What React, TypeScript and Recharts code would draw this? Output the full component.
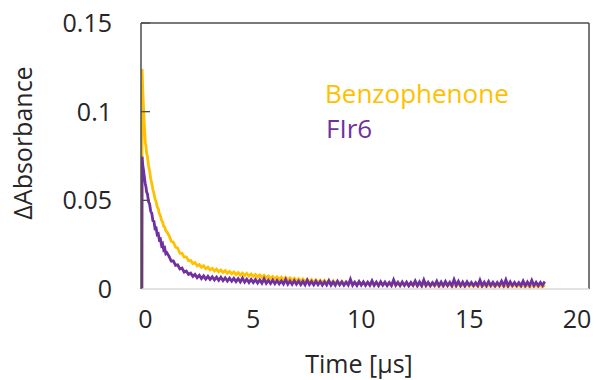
import { LineChart, Line, XAxis, YAxis, ReferenceLine, Customized } from 'recharts';

// time base: dense explicit points around the flash, then a regular 0.1 µs record
const earlyTimes = [
  -0.16, -0.15, -0.12, -0.09, -0.06, -0.03, 0, 0.03, 0.06, 0.1, 0.15, 0.2, 0.25, 0.3,
  0.35, 0.4, 0.45, 0.5, 0.55, 0.6, 0.65, 0.7, 0.75, 0.8, 0.85, 0.9, 0.95, 1.0,
];
const tailStart = 1.1;
const tailStep = 0.1;

const benzoEarly = [
  0, 0.124, 0.113, 0.104, 0.096, 0.089, 0.0825, 0.0805, 0.0765, 0.0745, 0.0695, 0.0665, 0.0622, 0.0596,
  0.0561, 0.0539, 0.0508, 0.0493, 0.0464, 0.0452, 0.0426, 0.0412, 0.0388, 0.0378, 0.0354, 0.0349, 0.0328, 0.0322,
];
const fir6Early = [
  0, 0.0746, 0.07, 0.0675, 0.0648, 0.0618, 0.0592, 0.0575, 0.0548, 0.0535, 0.0493, 0.0478, 0.0438, 0.0427,
  0.0385, 0.0381, 0.0341, 0.0344, 0.0307, 0.0311, 0.0277, 0.0281, 0.0247, 0.0255, 0.0222, 0.023, 0.0199, 0.0204,
];

const benzoTail = [
  0.0302, 0.027, 0.0264, 0.0236, 0.0231, 0.0202, 0.0201, 0.018, 0.0181, 0.016,
  0.0161, 0.0143, 0.0149, 0.0131, 0.0138, 0.0122, 0.0131, 0.0114, 0.0123, 0.0108,
  0.0116, 0.0102, 0.0113, 0.0097, 0.0107, 0.0093, 0.0104, 0.0089, 0.0099, 0.0086,
  0.0096, 0.0081, 0.0093, 0.0078, 0.009, 0.0075, 0.0088, 0.0072, 0.0084, 0.0071,
  0.0082, 0.0067, 0.0079, 0.0065, 0.0077, 0.0062, 0.0073, 0.006, 0.0071, 0.0057,
  0.0069, 0.0054, 0.0067, 0.0052, 0.0065, 0.005, 0.0063, 0.0048, 0.006, 0.0047,
  0.0058, 0.0044, 0.0057, 0.0041, 0.0054, 0.004, 0.0053, 0.0038, 0.0051, 0.0037,
  0.0049, 0.0035, 0.0048, 0.0033, 0.0046, 0.0032, 0.0045, 0.0031, 0.0044, 0.003,
  0.0042, 0.0028, 0.0041, 0.0027, 0.004, 0.0026, 0.0039, 0.0025, 0.0038, 0.0025,
  0.0037, 0.0023, 0.0036, 0.0022, 0.0035, 0.0023, 0.0036, 0.0021, 0.0034, 0.0022,
  0.0035, 0.0021, 0.0033, 0.002, 0.0034, 0.0021, 0.0032, 0.0019, 0.0033, 0.002,
  0.0032, 0.0018, 0.0031, 0.0019, 0.0032, 0.0017, 0.003, 0.0018, 0.0031, 0.0017,
  0.003, 0.0016, 0.0029, 0.0017, 0.0031, 0.0016, 0.0028, 0.0015, 0.0029, 0.0017,
  0.0029, 0.0015, 0.0028, 0.0016, 0.003, 0.0015, 0.0027, 0.0014, 0.0028, 0.0016,
  0.0028, 0.0014, 0.0027, 0.0015, 0.0029, 0.0014, 0.0026, 0.0013, 0.0027, 0.0015,
  0.0027, 0.0013, 0.0026, 0.0014, 0.0028, 0.0013, 0.0025, 0.0012, 0.0026, 0.0014,
  0.0026, 0.0013, 0.0025, 0.0012, 0.0027, 0.0013, 0.0024, 0.0011, 0.0025, 0.0013,
  0.0025, 0.0012, 0.0024, 0.0011, 0.0023,
];
const fir6Tail = [
  0.0184, 0.0158, 0.0158, 0.0133, 0.0136, 0.0113, 0.0118, 0.0095, 0.0101, 0.0082,
  0.0089, 0.0071, 0.0082, 0.0064, 0.0077, 0.0059, 0.0074, 0.0056, 0.0071, 0.0054,
  0.0069, 0.0051, 0.0067, 0.0049, 0.0066, 0.0047, 0.0063, 0.0045, 0.0061, 0.0044,
  0.006, 0.0042, 0.0058, 0.004, 0.0061, 0.0039, 0.0055, 0.0037, 0.0054, 0.0036,
  0.0053, 0.0034, 0.0051, 0.0033, 0.0057, 0.0032, 0.0049, 0.0031, 0.005, 0.003,
  0.0048, 0.0029, 0.0046, 0.0028, 0.0053, 0.0027, 0.0045, 0.0026, 0.0047, 0.0027,
  0.0045, 0.0025, 0.0043, 0.0024, 0.005, 0.0025, 0.0042, 0.0023, 0.0044, 0.0024,
  0.0042, 0.0022, 0.0041, 0.0023, 0.0047, 0.0022, 0.004, 0.0021, 0.0043, 0.0023,
  0.0041, 0.0021, 0.0039, 0.0022, 0.0055, 0.0021, 0.0038, 0.002, 0.0042, 0.0022,
  0.004, 0.002, 0.0038, 0.0021, 0.0046, 0.002, 0.0039, 0.0019, 0.0041, 0.0021,
  0.0039, 0.0019, 0.0037, 0.002, 0.0052, 0.0021, 0.0038, 0.0019, 0.004, 0.002,
  0.0039, 0.0018, 0.0037, 0.0021, 0.0045, 0.0019, 0.004, 0.0018, 0.0051, 0.002,
  0.0038, 0.0019, 0.0036, 0.002, 0.0044, 0.0018, 0.0039, 0.0019, 0.0042, 0.002,
  0.0038, 0.0018, 0.0053, 0.002, 0.0043, 0.0019, 0.0039, 0.0018, 0.0041, 0.0021,
  0.0037, 0.0019, 0.0036, 0.0019, 0.005, 0.0018, 0.0038, 0.0019, 0.0042, 0.002,
  0.0038, 0.0018, 0.0037, 0.002, 0.0044, 0.0019, 0.0052, 0.0018, 0.004, 0.002,
  0.0037, 0.0019, 0.0036, 0.0019, 0.0045, 0.0018, 0.0039, 0.0019, 0.0049, 0.002,
  0.0038, 0.0019, 0.0037, 0.002, 0.0042,
];

const xTicks = [0, 5, 10, 15, 20];
const yTicks = [0, 0.05, 0.1, 0.15];

const data = [
  ...earlyTimes.map((t, i) => ({ t, benzo: benzoEarly[i], fir6: fir6Early[i] })),
  ...benzoTail.map((v, i) => ({
    t: +(tailStart + i * tailStep).toFixed(2),
    benzo: v,
    fir6: fir6Tail[i],
  })),
];

const FONT = '"Open Sans", sans-serif';
const TEXT = '#262626';
const FRAME = '#4d4d4d';
const ORANGE = '#FFC000';
const PURPLE = '#7030A0';
const PLOT_LEFT = 141;

const YTick = ({ y, payload }: any) => (
  <g>
    {payload.value !== 0 && (
      <line x1={PLOT_LEFT} x2={PLOT_LEFT + 9} y1={y} y2={y} stroke={FRAME} strokeWidth={1.3} />
    )}
    <text x={112} y={y} dy={9} textAnchor="end" fontFamily={FONT} fontSize={25} fill={TEXT}>
      {payload.value}
    </text>
  </g>
);

const XTick = ({ x, payload }: any) => (
  <text x={x} y={328} textAnchor="middle" fontFamily={FONT} fontSize={25} fill={TEXT}>
    {payload.value}
  </text>
);

const Labels = () => (
  <g fontFamily={FONT}>
    <text x={325} y={103} fontSize={26} fill={ORANGE}>Benzophenone</text>
    <text x={326} y={138} fontSize={26} fill={PURPLE}>FIr6</text>
    <text x={359} y={373} fontSize={25} textAnchor="middle" fill={TEXT}>Time [µs]</text>
    <text x={32} y={143} fontSize={25} textAnchor="middle" fill={TEXT} transform="rotate(-90 32 143)">
      ΔAbsorbance
    </text>
  </g>
);

export default function App() {
  return (
    <div style={{ position: 'absolute', left: 0, top: 0, background: '#fff' }}>
      <LineChart
        width={596}
        height={380}
        data={data}
        margin={{ top: 23, right: 7, bottom: 51, left: 81 }}
      >
        <XAxis
          dataKey="t"
          type="number"
          domain={[-0.2, 20.55]}
          ticks={xTicks}
          allowDataOverflow
          height={40}
          axisLine={{ stroke: '#d9d9d9', strokeWidth: 1.5 }}
          tickLine={false}
          tick={<XTick />}
        />
        <YAxis
          type="number"
          domain={[0, 0.15]}
          ticks={yTicks}
          allowDataOverflow
          width={60}
          axisLine={{ stroke: FRAME, strokeWidth: 1.5 }}
          tickLine={false}
          tick={<YTick />}
        />
        <ReferenceLine y={0.15} stroke={FRAME} strokeWidth={1.5} />
        <ReferenceLine x={20.55} stroke={FRAME} strokeWidth={1.5} />
        <Line
          dataKey="benzo"
          type="linear"
          stroke={ORANGE}
          strokeWidth={2.8}
          dot={false}
          isAnimationActive={false}
        />
        <Line
          dataKey="fir6"
          type="linear"
          stroke={PURPLE}
          strokeWidth={2.8}
          dot={false}
          isAnimationActive={false}
        />
        <Customized component={<Labels />} />
      </LineChart>
    </div>
  );
}
